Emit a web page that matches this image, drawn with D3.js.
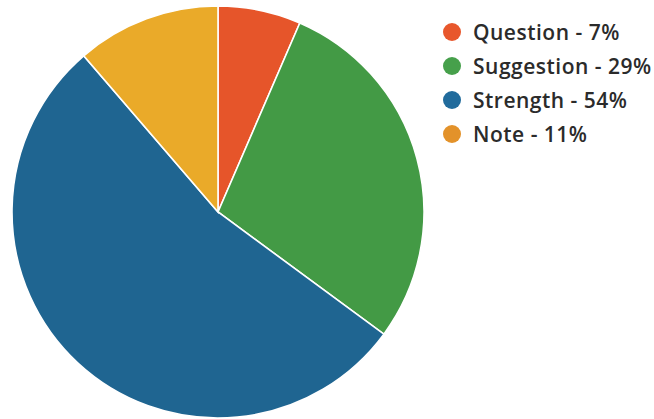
<!DOCTYPE html>
<html>
<head>
<meta charset="utf-8">
<script src="https://cdn.jsdelivr.net/npm/d3@7"></script>
<style>
  body { margin: 0; background: #fff; }
  svg { display: block; }
</style>
</head>
<body>
<div id="plot"></div>
<script>
// data
var categories = ["Question", "Suggestion", "Strength", "Note"];
var shares = [6.5, 28.6, 53.6, 11.3];      // slice sizes as measured
var pctLabels = ["7%", "29%", "54%", "11%"]; // printed in the legend
var sliceColors = ["#E6552A", "#439A45", "#1F6591", "#EAAA29"];
var dotColors = ["#E8572C", "#46A04B", "#216B9C", "#E3922A"];

var width = 654, height = 419;
var cx = 218, cy = 212, radius = 206;

var svg = d3.select("#plot").append("svg")
  .attr("width", width)
  .attr("height", height);

var pie = d3.pie().sort(null).value(function(d){ return d; });
var arc = d3.arc().innerRadius(0).outerRadius(radius);

var g = svg.append("g").attr("transform", "translate(" + cx + "," + cy + ")");

g.selectAll("path")
  .data(pie(shares))
  .enter().append("path")
  .attr("d", arc)
  .attr("fill", function(d, i){ return sliceColors[i]; })
  .attr("stroke", "#fff")
  .attr("stroke-width", 1.6);

var legend = svg.append("g").attr("transform", "translate(452,32)");
var rows = legend.selectAll("g")
  .data(categories)
  .enter().append("g")
  .attr("transform", function(d, i){ return "translate(0," + (i * 34) + ")"; });

rows.append("circle")
  .attr("r", 9)
  .attr("fill", function(d, i){ return dotColors[i]; });

rows.append("text")
  .attr("x", 21)
  .attr("y", 0)
  .attr("dy", "0.36em")
  .style("font-family", "'Open Sans', sans-serif")
  .style("font-weight", 600)
  .style("font-size", "21px")
  .style("letter-spacing", "0.5px")
  .style("fill", "#2b2b2b")
  .text(function(d, i){ return d + " - " + pctLabels[i]; });
</script>
</body>
</html>
